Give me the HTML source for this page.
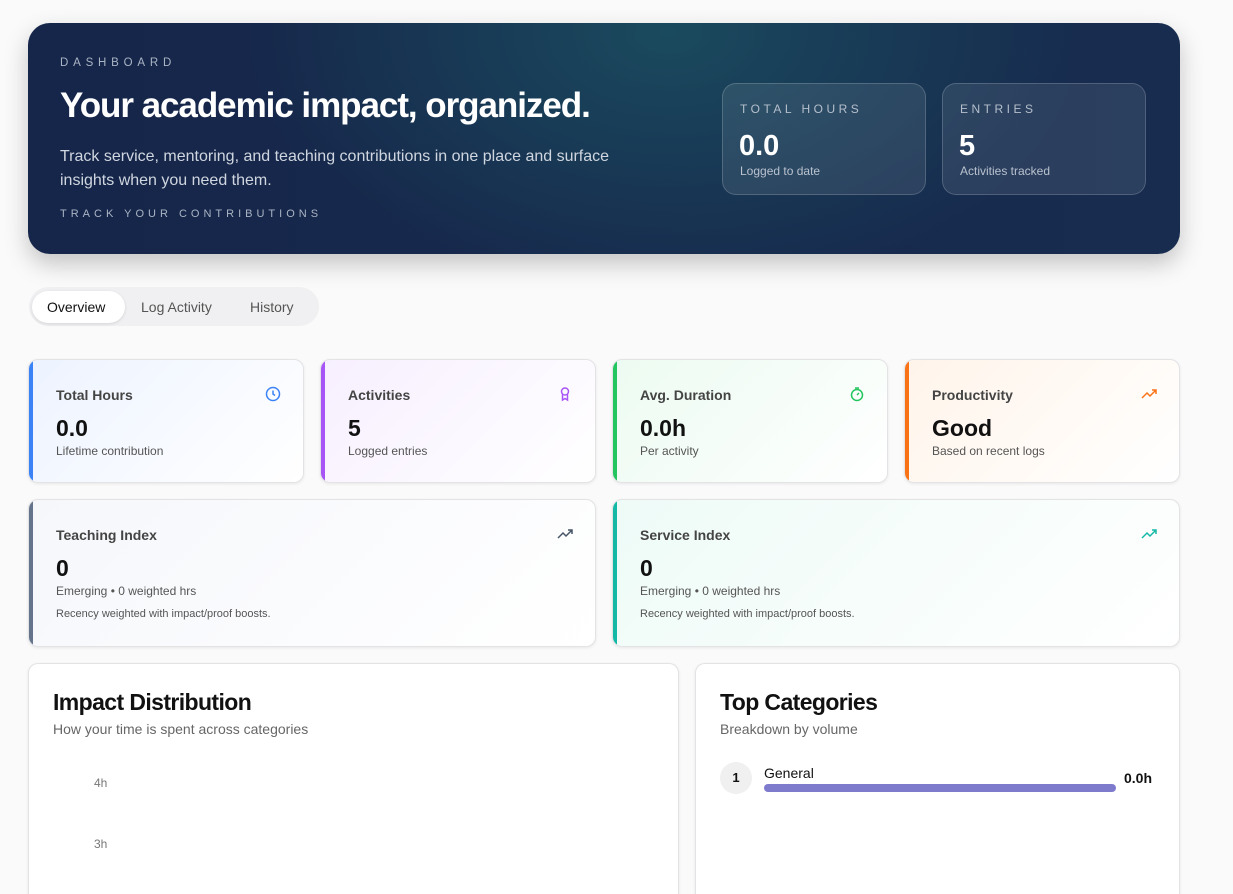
<!DOCTYPE html>
<html style="height:894px;overflow:hidden"><head><meta charset="utf-8"><style>
*{box-sizing:border-box;margin:0;padding:0}
body{width:1233px;height:894px;overflow:hidden;background:#fafafa;font-family:"Liberation Sans",sans-serif;position:relative;color:#111}
.abs{position:absolute}
.hero{left:28px;top:23px;width:1152px;height:231px;border-radius:22px;background:radial-gradient(ellipse 420px 260px at 640px 10px,#1a4a5e 0%,rgba(23,45,75,0) 100%),linear-gradient(90deg,#16264a,#172c4f);box-shadow:0 10px 24px rgba(0,0,0,.22)}
.cap{font-size:11.5px;letter-spacing:4.8px;color:#aab4c4}
.mini{border:1px solid rgba(255,255,255,.18);background:rgba(255,255,255,.09);border-radius:14px;width:204px;height:112px;top:83px}
.mini .l{position:absolute;left:17px;top:18px;font-size:12px;letter-spacing:3.5px;color:#b5bfcc}
.mini .v{position:absolute;left:16px;top:46px;font-size:29px;font-weight:bold;color:#fff}
.mini .s{position:absolute;left:17px;top:80px;font-size:12px;color:#b9c2cf}
.card{border:1px solid #e3e3e6;border-radius:10px;background:#fff;box-shadow:0 1px 3px rgba(0,0,0,.08);overflow:hidden}
.card .t{position:absolute;left:27px;top:27px;font-size:14px;font-weight:bold;color:#444}
.card .v{position:absolute;left:27px;top:55px;font-size:23px;font-weight:bold;color:#111}
.card .s{position:absolute;left:27px;top:84px;font-size:12px;color:#555}
.card .n{position:absolute;left:27px;top:108px;font-size:11px;color:#555}
.card .ic{position:absolute;right:22px;top:26px}
.bar{position:absolute;left:0;top:0;bottom:0;width:4px}
.bot{border-bottom:none;border-bottom-left-radius:0;border-bottom-right-radius:0}
</style></head><body>
<div class="abs hero">
 <div class="abs cap" style="left:32px;top:34px">DASHBOARD</div>
 <div class="abs" style="left:32px;top:63px;font-size:35px;font-weight:bold;color:#fff;letter-spacing:-1.05px">Your academic impact, organized.</div>
 <div class="abs" style="left:32px;top:122px;font-size:16px;line-height:24px;color:#d0d6df;width:600px">Track service, mentoring, and teaching contributions in one place and surface insights when you need them.</div>
 <div class="abs cap" style="left:32px;top:185px;letter-spacing:4px;font-size:11px">TRACK YOUR CONTRIBUTIONS</div>
</div>
<div class="abs mini" style="left:722px"><div class="l">TOTAL HOURS</div><div class="v">0.0</div><div class="s">Logged to date</div></div>
<div class="abs mini" style="left:942px"><div class="l">ENTRIES</div><div class="v">5</div><div class="s">Activities tracked</div></div>

<div class="abs" style="left:29px;top:287px;width:290px;height:39px;border-radius:20px;background:#f0f0f2"></div>
<div class="abs" style="left:32px;top:291px;width:93px;height:32px;border-radius:16px;background:#fff;box-shadow:0 1px 3px rgba(0,0,0,.12)"></div>
<div class="abs" style="left:47px;top:299px;font-size:14px;color:#111">Overview</div>
<div class="abs" style="left:141px;top:299px;font-size:14px;color:#555">Log Activity</div>
<div class="abs" style="left:250px;top:299px;font-size:14px;color:#555">History</div>

<div class="abs card" style="left:28px;top:359px;width:276px;height:124px;background:linear-gradient(135deg,#edf3ff,#fff)"><div class="bar" style="background:#3b82f6"></div><div class="t">Total Hours</div><div class="v">0.0</div><div class="s">Lifetime contribution</div>
<svg class="ic" width="16" height="16" viewBox="0 0 16 16"><circle cx="8" cy="8" r="6.5" fill="none" stroke="#3b82f6" stroke-width="1.5"/><path d="M8 4.5V8l2 1.5" fill="none" stroke="#3b82f6" stroke-width="1.5"/></svg></div>
<div class="abs card" style="left:320px;top:359px;width:276px;height:124px;background:linear-gradient(135deg,#f7efff,#fff)"><div class="bar" style="background:#a855f7"></div><div class="t">Activities</div><div class="v">5</div><div class="s">Logged entries</div>
<svg class="ic" width="16" height="16" viewBox="0 0 16 16"><circle cx="8" cy="5.5" r="3.5" fill="none" stroke="#a855f7" stroke-width="1.5"/><path d="M5.5 8.5V14l2.5-1.5 2.5 1.5V8.5" fill="none" stroke="#a855f7" stroke-width="1.5"/></svg></div>
<div class="abs card" style="left:612px;top:359px;width:276px;height:124px;background:linear-gradient(135deg,#ecfbf1,#fff)"><div class="bar" style="background:#22c55e"></div><div class="t">Avg. Duration</div><div class="v">0.0h</div><div class="s">Per activity</div>
<svg class="ic" width="16" height="16" viewBox="0 0 16 16"><circle cx="8" cy="9" r="5.5" fill="none" stroke="#22c55e" stroke-width="1.5"/><path d="M6 2h4M8 9l2-2" stroke="#22c55e" stroke-width="1.5"/></svg></div>
<div class="abs card" style="left:904px;top:359px;width:276px;height:124px;background:linear-gradient(135deg,#fff4ea,#fff)"><div class="bar" style="background:#f97316"></div><div class="t">Productivity</div><div class="v">Good</div><div class="s">Based on recent logs</div>
<svg class="ic" width="16" height="16" viewBox="0 0 16 16"><path d="M1 12l5-5 3 3 6-6M11 4h4v4" fill="none" stroke="#f97316" stroke-width="1.5"/></svg></div>

<div class="abs card" style="left:28px;top:499px;width:568px;height:148px;background:linear-gradient(135deg,#f5f7fb,#fff)"><div class="bar" style="background:#64748b"></div><div class="t">Teaching Index</div><div class="v">0</div><div class="s">Emerging • 0 weighted hrs</div><div class="n">Recency weighted with impact/proof boosts.</div>
<svg class="ic" width="16" height="16" viewBox="0 0 16 16"><path d="M1 12l5-5 3 3 6-6M11 4h4v4" fill="none" stroke="#475569" stroke-width="1.5"/></svg></div>
<div class="abs card" style="left:612px;top:499px;width:568px;height:148px;background:linear-gradient(135deg,#eefbf7,#fff)"><div class="bar" style="background:#14b8a6"></div><div class="t">Service Index</div><div class="v">0</div><div class="s">Emerging • 0 weighted hrs</div><div class="n">Recency weighted with impact/proof boosts.</div>
<svg class="ic" width="16" height="16" viewBox="0 0 16 16"><path d="M1 12l5-5 3 3 6-6M11 4h4v4" fill="none" stroke="#14b8a6" stroke-width="1.5"/></svg></div>

<div class="abs card bot" style="left:28px;top:663px;width:651px;height:231px">
 <div class="abs" style="left:24px;top:25px;font-size:23px;font-weight:bold;letter-spacing:-.6px">Impact Distribution</div>
 <div class="abs" style="left:24px;top:57px;font-size:14px;color:#666">How your time is spent across categories</div>
 <div class="abs" style="left:65px;top:112px;font-size:12px;color:#777">4h</div>
 <div class="abs" style="left:65px;top:173px;font-size:12px;color:#777">3h</div>
</div>
<div class="abs card bot" style="left:695px;top:663px;width:485px;height:231px">
 <div class="abs" style="left:24px;top:25px;font-size:23px;font-weight:bold;letter-spacing:-.6px">Top Categories</div>
 <div class="abs" style="left:24px;top:57px;font-size:14px;color:#666">Breakdown by volume</div>
 <div class="abs" style="left:24px;top:98px;width:32px;height:32px;border-radius:16px;background:#f0f0f0;font-size:13px;font-weight:bold;text-align:center;line-height:32px">1</div>
 <div class="abs" style="left:68px;top:101px;font-size:14px">General</div>
 <div class="abs" style="left:68px;top:120px;width:352px;height:8px;border-radius:4px;background:#7e7bcd"></div>
 <div class="abs" style="left:428px;top:106px;font-size:14px;font-weight:bold">0.0h</div>
</div>
</body></html>
